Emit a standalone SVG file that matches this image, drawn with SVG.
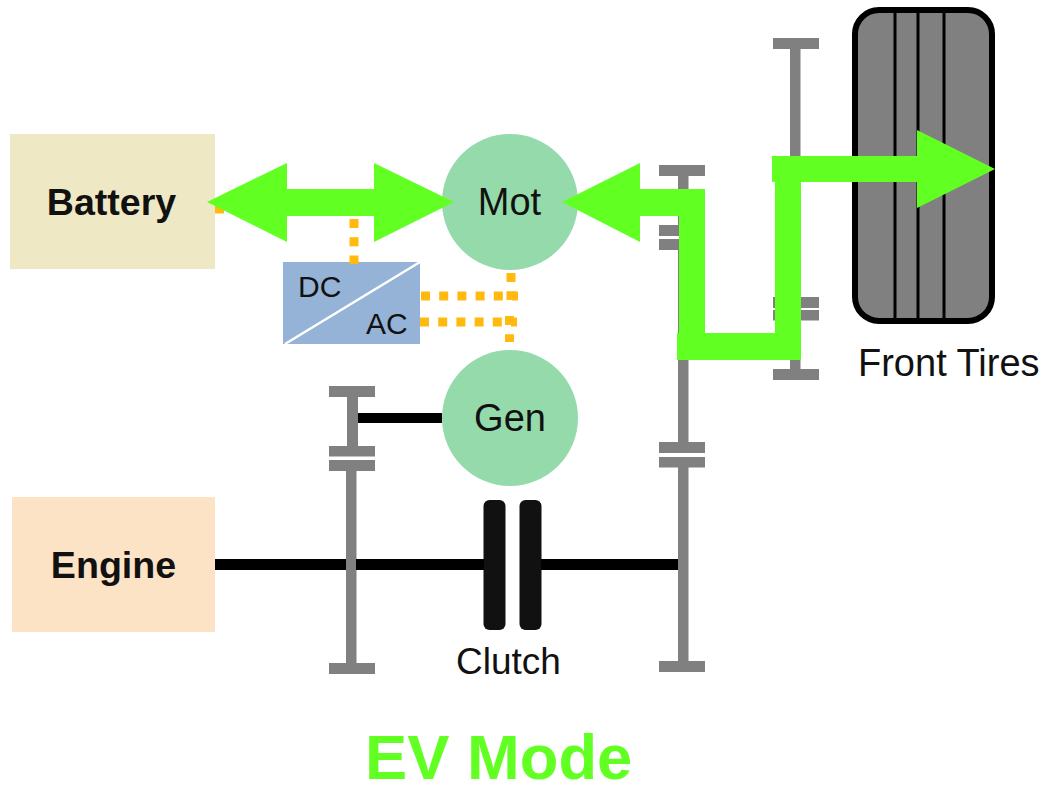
<svg xmlns="http://www.w3.org/2000/svg" width="1043" height="785" viewBox="0 0 1043 785">
<style>
text{font-family:"Liberation Sans",Arial,sans-serif;fill:#111}
.lbl{font-size:37px}
.big{font-size:38px}
.b{font-weight:bold;font-size:37.6px}
.m{text-anchor:middle}
.gear{fill:#808080}
.shaft{fill:#000}
.motor{fill:#95DAAB}
.dash{fill:none;stroke:#FFB90F;stroke-width:9;stroke-dasharray:9 9.2}
.flow{fill:#62FF23}
.tl{stroke:#000;stroke-width:3}
</style>
<rect width="1043" height="785" fill="#fff"/>
<g id="battery"><rect x="10" y="134" width="205" height="135" fill="#EEE9C4"/><text class="b m" x="111.500" y="215">Battery</text></g>
<g id="engine"><rect x="12" y="497" width="203" height="135" fill="#FDE3C6"/><text class="b m" x="113.500" y="578">Engine</text></g>
<g id="inverter"><rect x="283" y="262" width="137" height="82" fill="#95B3D7"/><path d="M285 344L420 262" stroke="#fff" stroke-width="2.500" fill="none"/><text x="298" y="297" font-size="30">DC</text><text x="366" y="334" font-size="30">AC</text></g>
<g id="mot"><circle cx="510" cy="202" r="68" class="motor"/><text class="big m" x="509.500" y="215">Mot</text></g>
<g id="gen"><circle cx="510" cy="418" r="68" class="motor"/><text class="big m" x="510" y="431">Gen</text></g>
<g id="gear-left" class="gear">
<rect x="329" y="386" width="46" height="11"/><rect x="347" y="397" width="11" height="49"/><rect x="329" y="446" width="46" height="10.500"/><rect x="329" y="460" width="46" height="11"/><rect x="346" y="471" width="10.500" height="192"/><rect x="329" y="663" width="46" height="11"/>
</g>
<g id="gear-mid" class="gear">
<rect x="659" y="165" width="46" height="11"/><rect x="678" y="176" width="10.500" height="49"/><rect x="659" y="225" width="46" height="11"/><rect x="659" y="239" width="46" height="11"/><rect x="678" y="250" width="10.500" height="192"/><rect x="659" y="442" width="46" height="11"/><rect x="659" y="457" width="46" height="10.500"/><rect x="678" y="467" width="10.500" height="194"/><rect x="659" y="661" width="46" height="11"/>
</g>
<g id="gear-right" class="gear">
<rect x="773" y="38" width="46" height="11"/><rect x="790" y="49" width="10.500" height="320"/><rect x="773" y="297" width="46" height="11"/><rect x="773" y="310" width="46" height="10.500"/><rect x="773" y="369" width="46" height="11"/>
</g>
<g id="clutch"><rect x="483.500" y="500" width="22" height="130" rx="6" fill="#111"/><rect x="519.500" y="500" width="22" height="130" rx="6" fill="#111"/><text class="lbl m" x="508.500" y="674">Clutch</text></g>
<g id="front-tires"><rect x="855" y="10" width="137" height="311" rx="24" fill="#808080" stroke="#000" stroke-width="6"/><path class="tl" d="M895 10V321M918 10V321M944 7V321"/><text class="big" x="858" y="376">Front Tires</text></g>
<g id="title"><text x="365" y="779" font-size="63.3" font-weight="bold" style="fill:#62FF23">EV Mode</text></g>
<g id="connectors">
<path class="shaft" d="M358 413H442V423H358ZM215 559H346V570H215ZM356 559H484V570H356ZM541 559H678V570H541Z"/>
<path class="dash" d="M215 209H225"/>
<path class="dash" d="M354 219V264"/>
<path class="dash" d="M421 296H518"/>
<path class="dash" d="M420 322H517"/>
<path class="dash" d="M511 273V300"/>
<path class="dash" d="M509.500 316V342"/>
<polygon class="flow" points="207,202 287,163 287,189 374,189 374,163 454,202 374,242 374,216 287,216 287,242"/>
<polygon class="flow" points="562,202 640,163 640,189 705,189 705,333 775,333 775,182 772,182 772,156 917,156 917,130 995,169 917,208 917,182 801,182 801,360 677,360 677,333 679,333 679,216 640,216 640,242"/>
</g>
</svg>
